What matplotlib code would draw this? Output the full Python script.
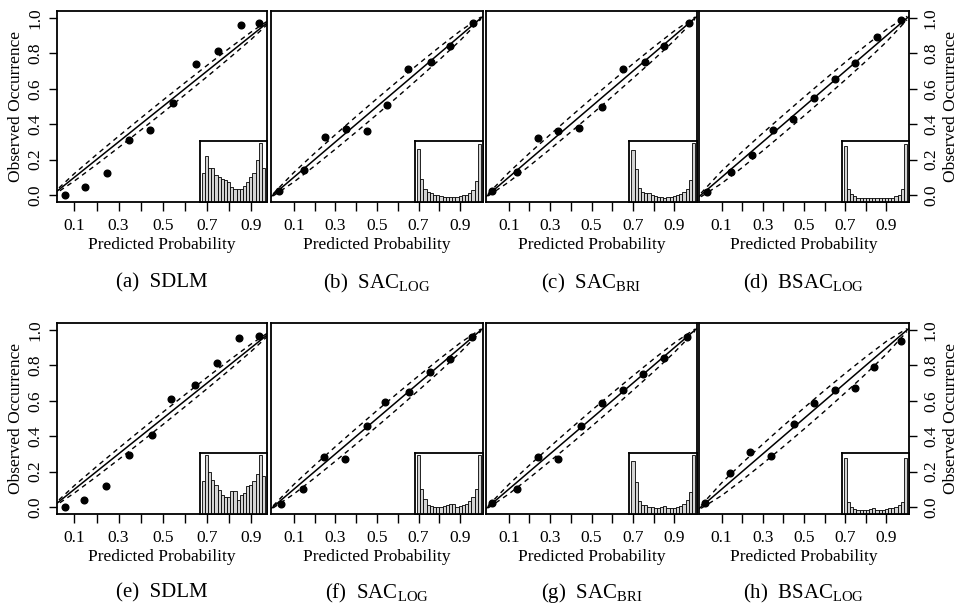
import numpy as np
import matplotlib
matplotlib.use("Agg")
import matplotlib.pyplot as plt

plt.rcParams['font.family'] = ['Liberation Serif', 'DejaVu Serif']
plt.rcParams['mathtext.fontset'] = 'custom'
plt.rcParams['mathtext.rm'] = 'Liberation Serif'

# reliability points (mean forecast, observed frequency) per panel
pred_a = [0.056, 0.147, 0.246, 0.349, 0.443, 0.547, 0.651, 0.751, 0.852, 0.936]
obs_a = [0.00, 0.047, 0.123, 0.311, 0.368, 0.517, 0.740, 0.815, 0.960, 0.974]
pred_b = [0.03, 0.15, 0.25, 0.35, 0.45, 0.55, 0.65, 0.76, 0.85, 0.96]
obs_b = [0.02, 0.14, 0.33, 0.37, 0.36, 0.51, 0.71, 0.75, 0.84, 0.97]
pred_c = [0.02, 0.14, 0.24, 0.34, 0.44, 0.55, 0.65, 0.76, 0.85, 0.97]
obs_c = [0.02, 0.13, 0.32, 0.36, 0.38, 0.50, 0.71, 0.75, 0.84, 0.97]
pred_d = [0.029, 0.145, 0.248, 0.348, 0.446, 0.548, 0.649, 0.749, 0.853, 0.972]
obs_d = [0.017, 0.132, 0.228, 0.366, 0.432, 0.549, 0.653, 0.747, 0.891, 0.989]
pred_e = [0.056, 0.142, 0.242, 0.349, 0.452, 0.538, 0.648, 0.746, 0.847, 0.936]
obs_e = [0.00, 0.038, 0.118, 0.296, 0.405, 0.613, 0.689, 0.816, 0.953, 0.968]
pred_f = [0.039, 0.142, 0.246, 0.347, 0.454, 0.538, 0.653, 0.754, 0.852, 0.958]
obs_f = [0.019, 0.101, 0.281, 0.272, 0.460, 0.593, 0.651, 0.762, 0.837, 0.962]
pred_g = [0.02, 0.14, 0.24, 0.34, 0.45, 0.55, 0.65, 0.75, 0.85, 0.96]
obs_g = [0.02, 0.10, 0.28, 0.27, 0.46, 0.59, 0.66, 0.75, 0.84, 0.96]
pred_h = [0.02, 0.14, 0.24, 0.34, 0.45, 0.55, 0.65, 0.75, 0.84, 0.97]
obs_h = [0.02, 0.19, 0.31, 0.29, 0.47, 0.59, 0.66, 0.67, 0.79, 0.94]

# consistency band half widths at 0.0, 0.1, ..., 1.0
band_x = [0.0, 0.1, 0.2, 0.3, 0.4, 0.5, 0.6, 0.7, 0.8, 0.9, 1.0]
band_a = [0.005, 0.021, 0.028, 0.032, 0.034, 0.035, 0.034, 0.032, 0.028, 0.021, 0.005]
band_b = [0.006, 0.027, 0.036, 0.041, 0.044, 0.045, 0.044, 0.041, 0.036, 0.027, 0.006]
band_c = [0.006, 0.027, 0.036, 0.041, 0.044, 0.045, 0.044, 0.041, 0.036, 0.027, 0.006]
band_d = [0.010, 0.035, 0.045, 0.050, 0.052, 0.053, 0.052, 0.050, 0.045, 0.035, 0.010]
band_e = [0.005, 0.021, 0.028, 0.032, 0.034, 0.035, 0.034, 0.032, 0.028, 0.021, 0.005]
band_f = [0.006, 0.027, 0.036, 0.041, 0.044, 0.045, 0.044, 0.041, 0.036, 0.027, 0.006]
band_g = [0.006, 0.027, 0.036, 0.041, 0.044, 0.045, 0.044, 0.041, 0.036, 0.027, 0.006]
band_h = [0.008, 0.036, 0.048, 0.055, 0.059, 0.060, 0.059, 0.055, 0.048, 0.036, 0.008]

# forecast histograms (20 bins, relative height)
hist_a = [0.48, 0.76, 0.55, 0.55, 0.44, 0.41, 0.37, 0.36, 0.33, 0.25,
          0.22, 0.22, 0.22, 0.26, 0.33, 0.41, 0.48, 0.68, 0.97, 0.56]
hist_b = [0.87, 0.38, 0.21, 0.16, 0.14, 0.12, 0.11, 0.09, 0.08, 0.08,
          0.08, 0.08, 0.08, 0.09, 0.11, 0.12, 0.15, 0.19, 0.34, 0.95]
hist_c = [0.85, 0.54, 0.23, 0.16, 0.15, 0.14, 0.12, 0.10, 0.08, 0.08,
          0.07, 0.08, 0.08, 0.09, 0.11, 0.13, 0.16, 0.22, 0.36, 0.96]
hist_d = [0.92, 0.21, 0.13, 0.09, 0.07, 0.07, 0.06, 0.06, 0.06, 0.06,
          0.06, 0.06, 0.06, 0.06, 0.07, 0.07, 0.09, 0.12, 0.21, 0.95]
hist_e = [0.54, 0.96, 0.68, 0.56, 0.48, 0.40, 0.31, 0.28, 0.27, 0.38,
          0.38, 0.23, 0.31, 0.34, 0.45, 0.48, 0.54, 0.65, 0.96, 0.62]
hist_f = [0.97, 0.41, 0.25, 0.15, 0.13, 0.12, 0.12, 0.12, 0.13, 0.15,
          0.17, 0.17, 0.11, 0.13, 0.14, 0.16, 0.22, 0.27, 0.41, 0.97]
hist_g = [0.87, 0.52, 0.22, 0.15, 0.14, 0.12, 0.11, 0.10, 0.09, 0.12,
          0.13, 0.09, 0.09, 0.09, 0.11, 0.13, 0.16, 0.23, 0.36, 0.96]
hist_h = [0.92, 0.19, 0.11, 0.08, 0.07, 0.06, 0.06, 0.07, 0.08, 0.09,
          0.07, 0.06, 0.07, 0.08, 0.09, 0.09, 0.11, 0.14, 0.20, 0.92]

captions = [r'(a)  SDLM', r'(b)  SAC$_{\mathrm{LOG}}$', r'(c)  SAC$_{\mathrm{BRI}}$',
            r'(d)  BSAC$_{\mathrm{LOG}}$', r'(e)  SDLM', r'(f)  SAC$_{\mathrm{LOG}}$',
            r'(g)  SAC$_{\mathrm{BRI}}$', r'(h)  BSAC$_{\mathrm{LOG}}$']

x_ticks = [0.1, 0.2, 0.3, 0.4, 0.5, 0.6, 0.7, 0.8, 0.9]
x_labels = ['0.1', '', '0.3', '', '0.5', '', '0.7', '', '0.9']
y_ticks = [0.0, 0.2, 0.4, 0.6, 0.8, 1.0]
y_labels = ['0.0', '0.2', '0.4', '0.6', '0.8', '1.0']

W, H = 963, 608
col_left = [57, 271, 486, 699]
col_width = [210, 212, 211, 210]
row_top = [11, 323]
panel_h = 191
caption_y = [283, 593]


def draw_panel(fig, row, col, pred, obs, band, hist, caption):
    left = col_left[col] / W
    bottom = 1 - (row_top[row] + panel_h) / H
    ax = fig.add_axes([left, bottom, col_width[col] / W, panel_h / H])

    if col == 0:
        ax.set_xlim(0.021, 0.972)
    else:
        ax.set_xlim(-0.01, 1.01)
    ax.set_ylim(-0.04, 1.04)

    ax.axline((0, 0), (1, 1), color='black', lw=1.1)
    upper = [x + w for x, w in zip(band_x, band)]
    lower = [x - w for x, w in zip(band_x, band)]
    ax.plot(band_x, upper, color='black', lw=1.0, dashes=(3.5, 3))
    ax.plot(band_x, lower, color='black', lw=1.0, dashes=(3.5, 3))
    ax.plot(pred, obs, 'o', color='black', ms=4.8)

    for s in ax.spines.values():
        s.set_linewidth(1.3)

    ax.set_xticks(x_ticks)
    ax.set_xticklabels(x_labels)
    ax.tick_params(axis='x', length=6.5, width=1.0, pad=5, labelsize=12.5)
    ax.set_xlabel('Predicted Probability', fontsize=12.5, labelpad=2)

    if col == 0 or col == 3:
        ax.set_yticks(y_ticks)
        ax.set_yticklabels(y_labels, rotation=90, va='center')
        ax.tick_params(axis='y', length=6, width=1.0, pad=4, labelsize=12.5)
        ax.set_ylabel('Observed Occurrence', fontsize=12.5, labelpad=2)
        if col == 3:
            ax.yaxis.tick_right()
            ax.yaxis.set_label_position('right')
            ax.set_ylabel('Observed Occurrence', fontsize=12.5, labelpad=3,
                          rotation=90)
    else:
        ax.set_yticks([])

    ins = ax.inset_axes([0.68, 0.0, 0.32, 0.32])
    centers = np.arange(len(hist)) * 0.05 + 0.025
    ins.bar(centers, hist, width=0.05, color='#d4d4d4', edgecolor='black', linewidth=0.6)
    ins.set_xlim(-0.03, 1.03)
    ins.set_ylim(0, 1.0)
    ins.set_xticks([])
    ins.set_yticks([])
    for s in ins.spines.values():
        s.set_linewidth(1.3)

    cx = left + col_width[col] / W / 2
    fig.text(cx, 1 - caption_y[row] / H, caption, ha='center', va='center', fontsize=15)


fig = plt.figure(figsize=(W / 100, H / 100), dpi=100)

panels = [
    (pred_a, obs_a, band_a, hist_a), (pred_b, obs_b, band_b, hist_b),
    (pred_c, obs_c, band_c, hist_c), (pred_d, obs_d, band_d, hist_d),
    (pred_e, obs_e, band_e, hist_e), (pred_f, obs_f, band_f, hist_f),
    (pred_g, obs_g, band_g, hist_g), (pred_h, obs_h, band_h, hist_h),
]

for i, (p, o, b, h) in enumerate(panels):
    draw_panel(fig, i // 4, i % 4, p, o, b, h, captions[i])

fig.savefig('out.png', dpi=100)
